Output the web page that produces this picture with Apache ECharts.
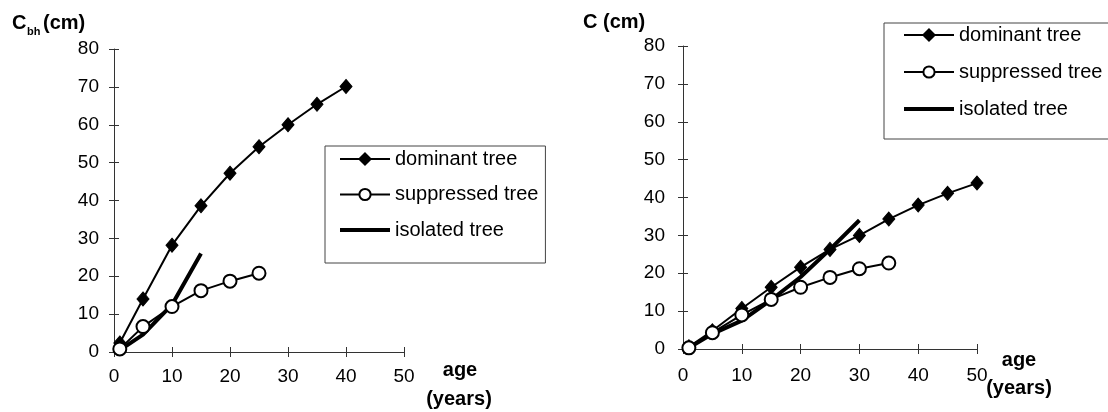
<!DOCTYPE html>
<html>
<head>
<meta charset="utf-8">
<script src="https://cdn.jsdelivr.net/npm/echarts@6/dist/echarts.min.js"></script>
<style>
html,body{margin:0;padding:0;background:#fff;}
#c{width:1108px;height:412px;}
</style>
</head>
<body>
<div id="c"></div>
<script>
// ---- data ----
var seriesNames = ['dominant tree', 'suppressed tree', 'isolated tree'];
var xTicks = [0, 10, 20, 30, 40, 50];
var yTicks = [0, 10, 20, 30, 40, 50, 60, 70, 80];

// left panel (Cbh)
var leftDominantAge = [1, 5, 10, 15, 20, 25, 30, 35, 40];
var leftDominantC = [2.4, 14, 28.2, 38.6, 47.2, 54.2, 60, 65.4, 70.1];
var leftSuppressedAge = [1, 5, 10, 15, 20, 25];
var leftSuppressedC = [0.8, 6.7, 12, 16.2, 18.7, 20.8];
var leftIsolatedAge = [1, 5, 10, 15];
var leftIsolatedC = [0.5, 4.6, 12.5, 26];

// right panel (C)
var rightDominantAge = [1, 5, 10, 15, 20, 25, 30, 35, 40, 45, 50];
var rightDominantC = [0.6, 4.8, 10.7, 16.3, 21.6, 26.3, 30, 34.3, 38, 41.1, 43.8];
var rightSuppressedAge = [1, 5, 10, 15, 20, 25, 30, 35];
var rightSuppressedC = [0.3, 4.3, 9, 13.1, 16.3, 18.9, 21.2, 22.7];
var rightIsolatedAge = [1, 5, 10, 15, 20, 25, 30];
var rightIsolatedC = [0.3, 4, 7.5, 13, 19, 26.3, 34];

function pairs(xs, ys) { return xs.map(function (x, i) { return [x, ys[i]]; }); }

var FONT = '"Liberation Sans", Arial, sans-serif';
var AX = '#333';
var xMin = xTicks[0], xMax = xTicks[xTicks.length - 1], xInt = xTicks[1] - xTicks[0];
var yMin = yTicks[0], yMax = yTicks[yTicks.length - 1], yInt = yTicks[1] - yTicks[0];

var grids = [
  { left: 114, top: 49, width: 290, height: 303 },
  { left: 683, top: 46, width: 294, height: 303 }
];
var labelMarginX = [15, 17];
var labelMarginY = [15, 18];

var xAxes = [], yAxes = [];
grids.forEach(function (g, gi) {
  // main x axis with labels, ticks pointing into the plot
  xAxes.push({
    type: 'value', gridIndex: gi, min: xMin, max: xMax, interval: xInt, position: 'bottom',
    axisLine: { show: true, onZero: false, lineStyle: { color: AX, width: 1 } },
    axisTick: { show: true, inside: true, length: 5, lineStyle: { color: AX } },
    axisLabel: { show: true, color: '#000', fontSize: 19, fontFamily: FONT, margin: labelMarginX[gi],
      formatter: function (v) { return xTicks.indexOf(v) >= 0 ? String(v) : ''; } },
    splitLine: { show: false }
  });
  // helper axis at the same place: outward ticks so ticks cross the axis
  xAxes.push({
    type: 'value', gridIndex: gi, min: xMin, max: xMax, interval: xInt, position: 'bottom',
    axisLine: { show: false, onZero: false },
    axisTick: { show: true, inside: false, length: 5, lineStyle: { color: AX } },
    axisLabel: { show: false }, splitLine: { show: false }
  });
  yAxes.push({
    type: 'value', gridIndex: gi, min: yMin, max: yMax, interval: yInt, position: 'left',
    axisLine: { show: true, onZero: false, lineStyle: { color: AX, width: 1 } },
    axisTick: { show: true, inside: true, length: 5, lineStyle: { color: AX } },
    axisLabel: { show: true, color: '#000', fontSize: 19, fontFamily: FONT, margin: labelMarginY[gi],
      formatter: function (v) { return yTicks.indexOf(v) >= 0 ? String(v) : ''; } },
    splitLine: { show: false }
  });
  yAxes.push({
    type: 'value', gridIndex: gi, min: yMin, max: yMax, interval: yInt, position: 'left',
    axisLine: { show: false, onZero: false },
    axisTick: { show: true, inside: false, length: 5, lineStyle: { color: AX } },
    axisLabel: { show: false }, splitLine: { show: false }
  });
});

function isolated(gi, data) {
  return { name: seriesNames[2], type: 'line', xAxisIndex: gi * 2, yAxisIndex: gi * 2, data: data,
    symbol: 'none', showSymbol: false, lineStyle: { color: '#000', width: 4 }, itemStyle: { color: '#000' },
    z: 2, silent: true };
}
function dominant(gi, data) {
  return { name: seriesNames[0], type: 'line', xAxisIndex: gi * 2, yAxisIndex: gi * 2, data: data,
    symbol: 'diamond', symbolSize: [12, 14], lineStyle: { color: '#000', width: 2 },
    itemStyle: { color: '#000', borderColor: '#000', borderWidth: 1 }, z: 3, silent: true };
}
function suppressed(gi, data) {
  return { name: seriesNames[1], type: 'line', xAxisIndex: gi * 2, yAxisIndex: gi * 2, data: data,
    symbol: 'circle', symbolSize: 13, lineStyle: { color: '#000', width: 2 },
    itemStyle: { color: '#fff', borderColor: '#000', borderWidth: 2 }, z: 4, silent: true };
}

var legendData = [
  { name: seriesNames[0], lineStyle: { width: 2 } },
  { name: seriesNames[1], lineStyle: { width: 2 } },
  { name: seriesNames[2], lineStyle: { width: 4 }, itemStyle: { opacity: 0, color: 'rgba(0,0,0,0)', borderWidth: 0 } }
];
var legendBase = {
  orient: 'vertical', itemWidth: 50, itemHeight: 14,
  borderColor: '#444', borderWidth: 1, borderRadius: 0, backgroundColor: '#fff',
  selectedMode: false, data: legendData,
  textStyle: { fontSize: 20, lineHeight: 20, color: '#000', fontFamily: FONT }
};
var legends = [
  Object.assign({}, legendBase, { left: 325, top: 146, itemGap: 15.5, padding: [3, 7, 23, 13] }),
  Object.assign({}, legendBase, { left: 884, top: 23, itemGap: 17, padding: [2, 7, 20, 18] })
];

function txt(x, y, s, size, bold, align) {
  return { type: 'text', x: x, y: y, silent: true,
    style: { text: s, fill: '#000', font: (bold ? 'bold ' : '') + size + 'px ' + FONT,
      align: align || 'center', verticalAlign: 'middle' } };
}

var option = {
  animation: false,
  backgroundColor: '#fff',
  grid: grids,
  xAxis: xAxes,
  yAxis: yAxes,
  legend: legends,
  series: [
    isolated(0, pairs(leftIsolatedAge, leftIsolatedC)),
    dominant(0, pairs(leftDominantAge, leftDominantC)),
    suppressed(0, pairs(leftSuppressedAge, leftSuppressedC)),
    isolated(1, pairs(rightIsolatedAge, rightIsolatedC)),
    dominant(1, pairs(rightDominantAge, rightDominantC)),
    suppressed(1, pairs(rightSuppressedAge, rightSuppressedC))
  ],
  graphic: [
    txt(12, 23, 'C', 20, true, 'left'),
    txt(27, 32, 'bh', 11, true, 'left'),
    txt(43, 23, '(cm)', 20, true, 'left'),
    txt(583, 22, 'C (cm)', 20, true, 'left'),
    txt(460, 370, 'age', 20, true),
    txt(459, 399, '(years)', 20, true),
    txt(1019, 360, 'age', 20, true),
    txt(1019, 388, '(years)', 20, true)
  ]
};

var chart = echarts.init(document.getElementById('c'), null, { renderer: 'canvas' });
chart.setOption(option);
</script>
</body>
</html>
